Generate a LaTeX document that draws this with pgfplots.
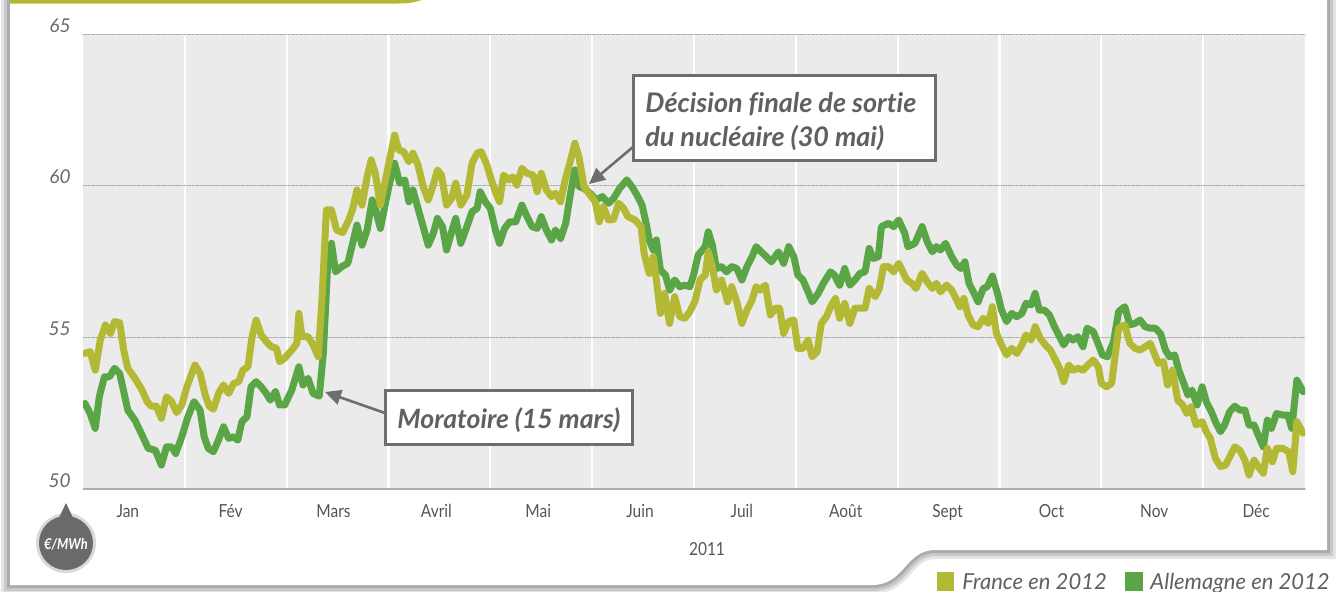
\documentclass[border=0pt]{standalone}
\usepackage{fontspec}
\setmainfont{Lato}[Ligatures={NoCommon}]
\newfontfamily\condfont[FakeStretch=0.86]{Lato}
\usepackage{pgfplots}
\pgfplotsset{compat=1.18}
\usetikzlibrary{arrows.meta}
\definecolor{fr}{HTML}{B3B935}
\definecolor{de}{HTML}{5AA646}
\definecolor{bg}{HTML}{EBEBEB}
\definecolor{txt}{HTML}{5F6062}
\definecolor{boxc}{HTML}{6D6E70}
\definecolor{mon}{HTML}{555555}
\definecolor{ylab}{HTML}{6A6A6A}
\definecolor{badge}{HTML}{696A6C}
\tikzset{card/.style={insert path={(10,-40) -- (1327,-40) -- (1327,550) -- (935,550) .. controls (905,550) and (905,585) .. (872,585) -- (10,585) -- cycle}}}
\begin{document}
\begin{tikzpicture}[x=0.5pt,y=-0.5pt]
\path[use as bounding box] (0,0) rectangle (1336,591);
\begin{scope}
\clip (0,0) rectangle (1336,591);
\fill[white] (0,0) rectangle (1336,591);
% card shadow
\draw[black, opacity=0.10, line width=9pt, card];
\draw[black, opacity=0.12, line width=6pt, card];
\draw[black, opacity=0.15, line width=3pt, card];
\fill[white, card];
% top tab line
\draw[fr, line width=2pt] (10,1.5) -- (398,1.5) .. controls (412,1.5) and (418,0) .. (430,-6);
% badge
\fill[black, opacity=0.15] (66,543) circle (15pt);
\fill[badge] (66,543) circle (13.5pt);
\fill[badge] (55,526) -- (66,503) -- (77,526) -- cycle;
\node[text=white, font=\condfont\bfseries\itshape\fontsize{7.5}{7.5}\selectfont, inner sep=0pt] at (66,544) {€/MWh};
\end{scope}

\begin{axis}[
  at={(41.5pt,-244.5pt)}, anchor=south west,
  scale only axis, width=611pt, height=227.5pt,
  xmin=0, xmax=12, ymin=50, ymax=65,
  axis background/.style={fill=bg},
  axis line style={draw=none},
  xtick={0.44,1.45,2.46,3.47,4.47,5.47,6.47,7.49,8.49,9.51,10.52,11.52},
  xticklabels={Jan,Fév,Mars,Avril,Mai,Juin,Juil,Août,Sept,Oct,Nov,Déc},
  minor xtick={1,2,...,11},
  xminorgrids=true,
  minor grid style={white, line width=1.1pt},
  ytick={50,55,60,65},
  ymajorgrids=true,
  major grid style={gray!75, line width=0.5pt, dash pattern=on 0.5pt off 0.8pt},
  major tick length=0pt, minor tick length=0pt,
  tick style={draw=none},
  /pgf/number format/assume math mode=true,
  xticklabel style={inner sep=0pt, anchor=base, yshift=-14pt, text=mon,
     font=\condfont\fontsize{9}{9}\selectfont},
  yticklabel style={inner sep=0pt, anchor=base east, xshift=-6pt, yshift=1pt, text=ylab,
     font=\itshape\fontsize{9.5}{9.5}\selectfont},
  line join=round, line cap=round,
]
% Allemagne
\addplot[de, line width=3.5pt] coordinates {
(0.02,52.82)(0.07,52.49)(0.12,52.00)(0.16,53.04)(0.21,53.70)(0.26,53.70)(0.31,53.98)(0.36,53.81)
(0.40,53.21)(0.44,52.60)(0.51,52.27)(0.58,51.78)(0.64,51.34)(0.71,51.28)(0.77,50.79)(0.82,51.39)
(0.87,51.39)(0.91,51.17)(0.97,51.72)(1.03,52.38)(1.09,52.88)(1.15,52.60)(1.19,51.72)(1.23,51.34)
(1.28,51.23)(1.33,51.61)(1.38,52.05)(1.43,51.67)(1.48,51.72)(1.52,51.61)(1.56,52.22)(1.61,52.38)
(1.65,53.37)(1.70,53.54)(1.75,53.37)(1.80,53.15)(1.84,52.93)(1.89,53.21)(1.93,52.77)(1.98,52.77)
(2.05,53.26)(2.12,54.03)(2.16,53.43)(2.21,53.65)(2.26,53.15)(2.32,53.06)(2.36,54.47)(2.40,57.22)
(2.44,58.10)(2.48,57.16)(2.54,57.33)(2.60,57.44)(2.64,57.99)(2.69,58.70)(2.74,58.04)(2.79,58.54)
(2.84,59.53)(2.87,59.25)(2.92,58.59)(2.97,59.42)(3.01,60.08)(3.06,60.74)(3.11,60.08)(3.16,60.19)
(3.20,59.47)(3.24,59.86)(3.29,59.25)(3.34,58.65)(3.39,58.04)(3.44,58.43)(3.48,58.92)(3.53,58.65)
(3.57,57.88)(3.62,58.48)(3.66,58.92)(3.71,58.10)(3.77,58.65)(3.82,59.14)(3.87,59.25)(3.90,59.80)
(3.95,59.47)(4.00,59.25)(4.05,58.54)(4.09,58.10)(4.14,58.59)(4.19,58.81)(4.25,58.81)(4.31,59.36)
(4.36,58.98)(4.41,58.65)(4.46,58.59)(4.50,58.98)(4.55,58.54)(4.60,58.21)(4.64,58.54)(4.69,58.26)
(4.74,58.76)(4.79,59.80)(4.83,60.52)(4.87,59.97)(4.92,59.91)(4.98,59.75)(5.04,59.53)(5.10,59.64)
(5.16,59.42)(5.21,59.58)(5.27,59.91)(5.34,60.19)(5.39,59.97)(5.44,59.69)(5.49,59.36)(5.53,58.76)
(5.56,58.21)(5.60,57.88)(5.63,58.21)(5.67,57.22)(5.72,57.05)(5.76,56.56)(5.81,56.89)(5.86,56.67)
(5.91,56.72)(5.96,56.67)(6.00,57.11)(6.04,57.71)(6.11,57.99)(6.14,58.48)(6.18,58.04)(6.22,57.27)
(6.27,57.33)(6.32,57.16)(6.37,57.33)(6.42,57.27)(6.47,56.89)(6.52,57.33)(6.57,57.66)(6.61,57.99)
(6.66,57.82)(6.71,57.66)(6.76,57.49)(6.83,57.82)(6.88,57.44)(6.93,57.99)(6.98,57.66)(7.02,57.05)
(7.07,56.89)(7.12,56.50)(7.16,56.17)(7.22,56.45)(7.27,56.78)(7.34,57.16)(7.38,57.05)(7.43,56.72)
(7.48,57.27)(7.53,56.72)(7.58,56.89)(7.63,57.11)(7.68,57.16)(7.72,57.93)(7.76,57.60)(7.81,57.66)
(7.84,58.65)(7.91,58.76)(7.96,58.65)(8.01,58.87)(8.07,58.43)(8.10,57.99)(8.17,58.10)(8.24,58.65)
(8.29,58.15)(8.34,57.82)(8.38,57.99)(8.42,57.88)(8.47,58.10)(8.53,57.66)(8.58,57.38)(8.62,57.27)
(8.66,57.49)(8.70,56.78)(8.75,56.45)(8.79,56.17)(8.84,56.61)(8.88,56.67)(8.93,57.02)(8.98,56.45)
(9.02,55.90)(9.07,55.52)(9.12,55.79)(9.17,55.68)(9.22,55.79)(9.26,56.12)(9.31,56.07)(9.35,56.45)
(9.39,55.90)(9.44,55.90)(9.49,55.74)(9.54,55.35)(9.59,55.02)(9.63,54.75)(9.68,55.02)(9.72,54.91)
(9.77,55.02)(9.82,54.69)(9.86,55.30)(9.92,55.19)(9.96,54.86)(10.01,54.42)(10.06,54.36)(10.12,54.86)
(10.17,55.85)(10.23,56.01)(10.28,55.41)(10.33,55.46)(10.38,55.57)(10.43,55.35)(10.48,55.30)(10.53,55.30)
(10.58,55.13)(10.63,54.58)(10.67,54.36)(10.72,54.42)(10.76,53.92)(10.81,53.48)(10.85,53.10)(10.89,53.26)
(10.94,52.77)(10.99,53.37)(11.03,52.88)(11.08,52.55)(11.12,52.22)(11.17,51.89)(11.21,52.11)(11.26,52.55)
(11.31,52.73)(11.36,52.60)(11.41,52.60)(11.45,52.11)(11.50,52.11)(11.54,51.78)(11.59,51.39)(11.63,52.27)
(11.67,52.00)(11.72,52.49)(11.78,52.44)(11.83,52.44)(11.87,52.00)(11.92,53.59)(11.98,53.21)
};
% France
\addplot[fr, line width=3.5pt] coordinates {
(0.02,54.47)(0.07,54.53)(0.12,53.92)(0.17,54.91)(0.22,55.41)(0.27,55.13)(0.31,55.52)(0.36,55.48)
(0.40,54.58)(0.44,53.98)(0.51,53.65)(0.58,53.26)(0.63,52.88)(0.67,52.73)(0.72,52.73)(0.77,52.33)
(0.82,53.04)(0.87,52.88)(0.92,52.52)(0.97,52.77)(1.02,53.37)(1.10,54.09)(1.15,53.81)(1.20,53.10)
(1.24,52.73)(1.28,52.63)(1.33,53.15)(1.38,53.43)(1.43,53.15)(1.48,53.48)(1.53,53.54)(1.57,53.92)
(1.62,54.03)(1.66,55.02)(1.70,55.57)(1.75,55.08)(1.80,54.86)(1.85,54.69)(1.90,54.64)(1.93,54.20)
(1.98,54.31)(2.05,54.58)(2.10,54.80)(2.12,55.79)(2.15,55.02)(2.21,55.02)(2.26,54.75)(2.31,54.36)
(2.35,56.45)(2.39,59.20)(2.44,59.20)(2.49,58.54)(2.55,58.45)(2.61,58.87)(2.65,59.25)(2.69,59.86)
(2.74,59.36)(2.79,60.29)(2.83,60.85)(2.87,60.41)(2.92,59.36)(2.97,60.19)(3.01,60.85)(3.06,61.67)
(3.10,61.18)(3.15,61.12)(3.20,60.79)(3.24,61.07)(3.29,60.68)(3.34,59.97)(3.39,59.53)(3.44,60.02)
(3.48,60.52)(3.52,60.35)(3.57,59.36)(3.62,59.58)(3.66,60.08)(3.71,59.36)(3.77,59.69)(3.82,60.74)
(3.87,61.07)(3.91,61.12)(3.96,60.74)(4.01,60.19)(4.05,59.80)(4.09,59.47)(4.13,60.35)(4.18,60.19)
(4.22,60.29)(4.26,60.02)(4.31,60.57)(4.36,60.41)(4.42,60.35)(4.46,59.80)(4.50,60.41)(4.55,59.86)
(4.60,59.64)(4.64,59.75)(4.69,59.47)(4.73,60.13)(4.78,60.74)(4.83,61.40)(4.87,60.95)(4.92,59.97)
(4.98,59.69)(5.03,59.47)(5.07,58.81)(5.11,59.31)(5.16,58.87)(5.21,58.89)(5.26,59.42)(5.31,59.25)
(5.35,58.98)(5.42,58.87)(5.48,58.65)(5.51,57.77)(5.56,57.11)(5.60,57.66)(5.63,56.89)(5.67,55.79)
(5.71,56.45)(5.76,55.46)(5.81,56.34)(5.86,55.68)(5.91,55.63)(5.96,55.85)(6.01,56.20)(6.06,56.90)
(6.11,57.05)(6.14,57.82)(6.18,57.33)(6.22,56.56)(6.27,56.89)(6.33,56.17)(6.37,56.67)(6.42,56.17)
(6.47,55.46)(6.52,55.90)(6.57,56.23)(6.61,56.67)(6.65,56.56)(6.70,56.72)(6.75,55.74)(6.80,55.96)
(6.84,55.96)(6.88,55.13)(6.93,55.52)(6.98,55.57)(7.02,54.64)(7.07,54.64)(7.12,54.91)(7.16,54.36)
(7.21,54.53)(7.25,55.46)(7.30,55.68)(7.35,56.07)(7.39,56.28)(7.43,55.63)(7.48,56.12)(7.53,55.46)
(7.58,55.96)(7.63,55.96)(7.68,55.96)(7.72,56.61)(7.78,56.34)(7.82,56.61)(7.86,57.33)(7.91,57.33)
(7.96,57.16)(8.01,57.44)(8.09,56.89)(8.14,56.78)(8.18,56.61)(8.24,57.11)(8.29,56.83)(8.34,56.61)
(8.38,56.78)(8.42,56.50)(8.48,56.72)(8.53,56.56)(8.58,56.23)(8.61,56.01)(8.65,56.28)(8.69,55.74)
(8.74,55.41)(8.79,55.35)(8.84,55.63)(8.89,55.46)(8.93,56.01)(8.97,55.13)(9.02,54.75)(9.07,54.42)
(9.12,54.64)(9.17,54.47)(9.22,54.75)(9.26,55.08)(9.31,54.91)(9.35,55.35)(9.40,54.97)(9.45,54.75)
(9.50,54.58)(9.55,54.25)(9.59,53.98)(9.63,53.54)(9.68,54.09)(9.72,53.92)(9.77,53.98)(9.82,53.92)
(9.87,54.09)(9.92,54.25)(9.97,54.03)(10.00,53.48)(10.05,53.37)(10.10,53.48)(10.13,54.25)(10.17,55.30)
(10.23,55.41)(10.28,54.80)(10.33,54.64)(10.38,54.58)(10.43,54.69)(10.48,54.80)(10.52,54.47)(10.56,54.14)
(10.61,54.20)(10.65,53.43)(10.70,53.92)(10.75,52.93)(10.80,52.77)(10.84,52.49)(10.88,52.71)(10.93,52.11)
(10.99,52.22)(11.03,51.89)(11.07,51.67)(11.12,51.01)(11.17,50.74)(11.22,50.79)(11.27,51.12)(11.31,51.39)
(11.36,51.28)(11.41,50.95)(11.45,50.46)(11.50,50.95)(11.54,50.74)(11.59,50.52)(11.63,51.34)(11.68,50.90)
(11.72,51.34)(11.78,51.34)(11.84,51.23)(11.88,50.57)(11.92,52.22)(11.98,51.84)
};
\draw[color=gray!65, line width=1.5pt] (axis cs:0,50) -- (axis cs:12,50);
\end{axis}

% annotations
\draw[boxc, line width=1.3pt, -{Triangle[length=8pt,width=7.5pt]}] (385,413) -- (325,392);
\draw[boxc, line width=1.3pt, -{Triangle[length=8pt,width=7.5pt]}] (633,147) -- (589,184);
\draw[boxc, line width=1.5pt, fill=white] (385,390) rectangle (632,444);
\node[anchor=base west, inner sep=0pt, text=txt, font=\bfseries\itshape\fontsize{13.3}{13.3}\selectfont] at (397,428) {Moratoire (15 mars)};
\draw[boxc, line width=1.5pt, fill=white] (633,75) rectangle (935,160);
\node[anchor=base west, inner sep=0pt, text=txt, font=\bfseries\itshape\fontsize{13.5}{13.5}\selectfont] at (645,112) {Décision finale de sortie};
\node[anchor=base west, inner sep=0pt, text=txt, font=\bfseries\itshape\fontsize{13.5}{13.5}\selectfont] at (645,146) {du nucléaire (30 mai)};

% year
\node[anchor=base, inner sep=0pt, text=mon, font=\condfont\fontsize{9}{9}\selectfont] at (707,555) {2011};

% legend
\fill[fr] (937,572) rectangle (954,591);
\node[anchor=base west, inner sep=0pt, text=txt, font=\itshape\fontsize{11}{11}\selectfont] at (962,589) {France en 2012};
\fill[de] (1125,572) rectangle (1143,591);
\node[anchor=base west, inner sep=0pt, text=txt, font=\itshape\fontsize{11}{11}\selectfont] at (1150,589) {Allemagne en 2012};
\end{tikzpicture}
\end{document}
